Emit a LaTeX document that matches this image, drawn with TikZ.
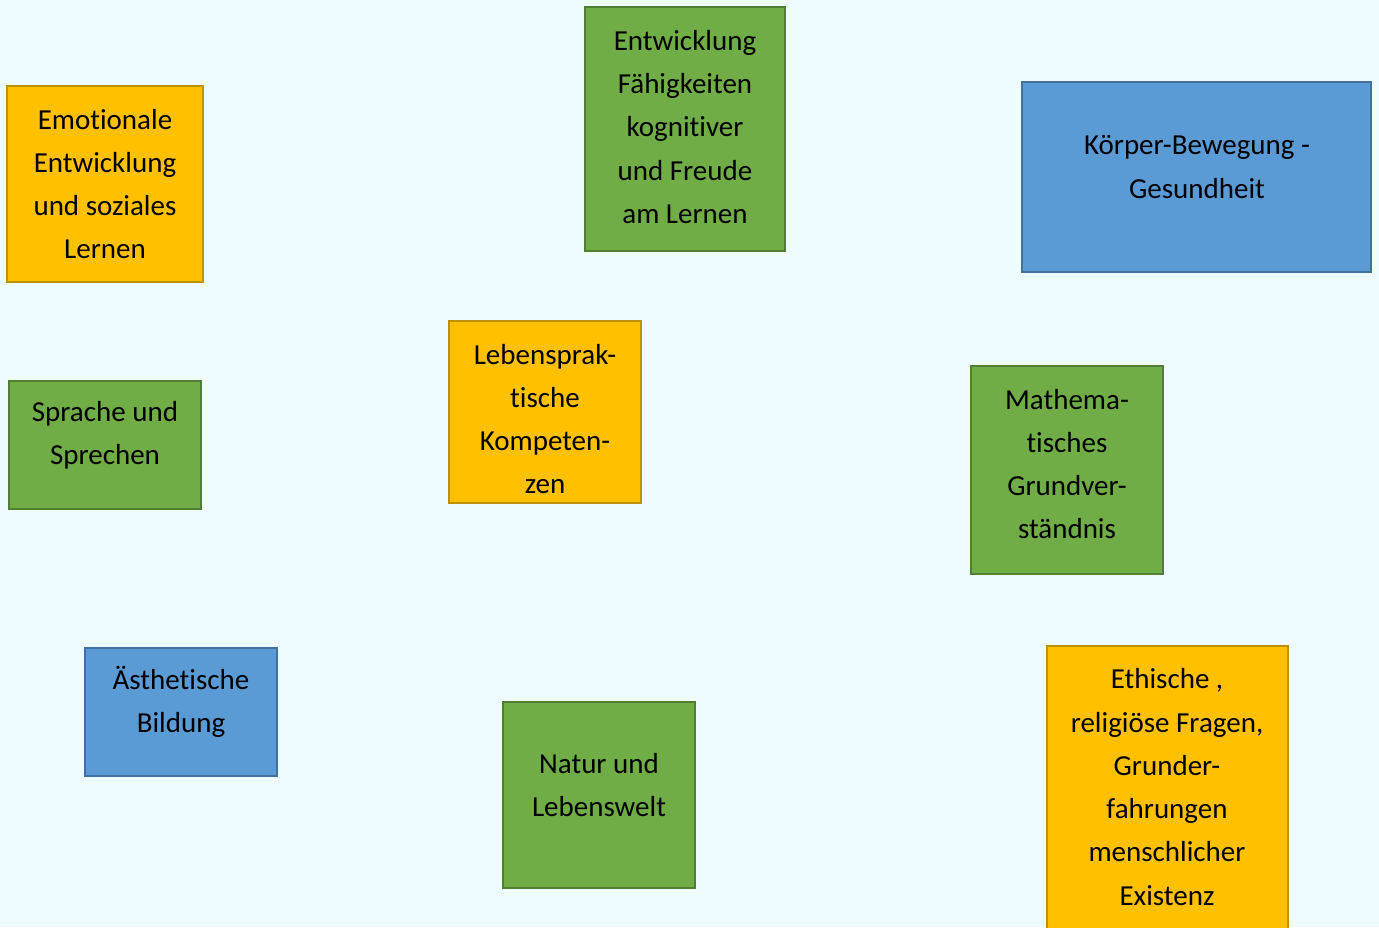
\documentclass[tikz,border=0pt]{standalone}
\usepackage{fontspec}
\setmainfont[Ligatures={NoCommon}]{Carlito}
\definecolor{bgc}{RGB}{239,252,255}
\definecolor{orf}{RGB}{255,192,0}
\definecolor{ord}{RGB}{191,144,0}
\definecolor{grf}{RGB}{112,173,71}
\definecolor{grd}{RGB}{80,126,50}
\definecolor{blf}{RGB}{91,155,213}
\definecolor{bld}{RGB}{65,113,156}
\tikzset{
  boxbase/.style={rectangle, line width=2pt, inner sep=0pt, anchor=north west},
  orbox/.style={boxbase, fill=orf, draw=ord},
  grbox/.style={boxbase, fill=grf, draw=grd},
  blbox/.style={boxbase, fill=blf, draw=bld},
  txt/.style={align=center, inner sep=0pt, font=\fontsize{29}{43.3}\selectfont, text=black}
}
\begin{document}
\begin{tikzpicture}[x=1pt,y=-1pt]
\fill[bgc] (0,0) rectangle (1379,927);
\useasboundingbox (0,0) rectangle (1379,927);
\begin{scope}
\clip (0,0) rectangle (1379,927);
% boxes
\node[orbox, minimum width=196pt, minimum height=196pt] (b1) at (6,85) {};
\node[grbox, minimum width=200pt, minimum height=244pt] (b2) at (584,6) {};
\node[blbox, minimum width=349pt, minimum height=190pt] (b3) at (1021,81) {};
\node[orbox, minimum width=192pt, minimum height=182pt] (b4) at (448,320) {};
\node[grbox, minimum width=192pt, minimum height=128pt] (b5) at (8,380) {};
\node[grbox, minimum width=192pt, minimum height=208pt] (b6) at (970,365) {};
\node[blbox, minimum width=192pt, minimum height=128pt] (b7) at (84,647) {};
\node[grbox, minimum width=192pt, minimum height=186pt] (b8) at (502,701) {};
\node[orbox, minimum width=241pt, minimum height=300pt] (b9) at (1046,645) {};
% texts
\node[txt] (t1) at (105,184) {Emotionale\\Entwicklung\\und soziales\\Lernen};
\node[txt] (t2) at (685,127) {Entwicklung\\Fähigkeiten\\kognitiver\\und Freude\\am Lernen};
\node[txt] (t3) at (1197,167) {Körper-Bewegung -\\Gesundheit};
\node[txt] (t4) at (545,419) {Lebensprak-\\tische\\Kompeten-\\zen};
\node[txt] (t5) at (105,435) {Sprache und\\Sprechen};
\node[txt] (t6) at (1067,464) {Mathema-\\tisches\\Grundver-\\ständnis};
\node[txt] (t7) at (181,702) {Ästhetische\\Bildung};
\node[txt] (t8) at (599,785) {Natur und\\Lebenswelt};
\node[txt] (t9) at (1167,787) {Ethische ,\\religiöse Fragen,\\Grunder-\\fahrungen\\menschlicher\\Existenz};
\end{scope}
\end{tikzpicture}
\end{document}
